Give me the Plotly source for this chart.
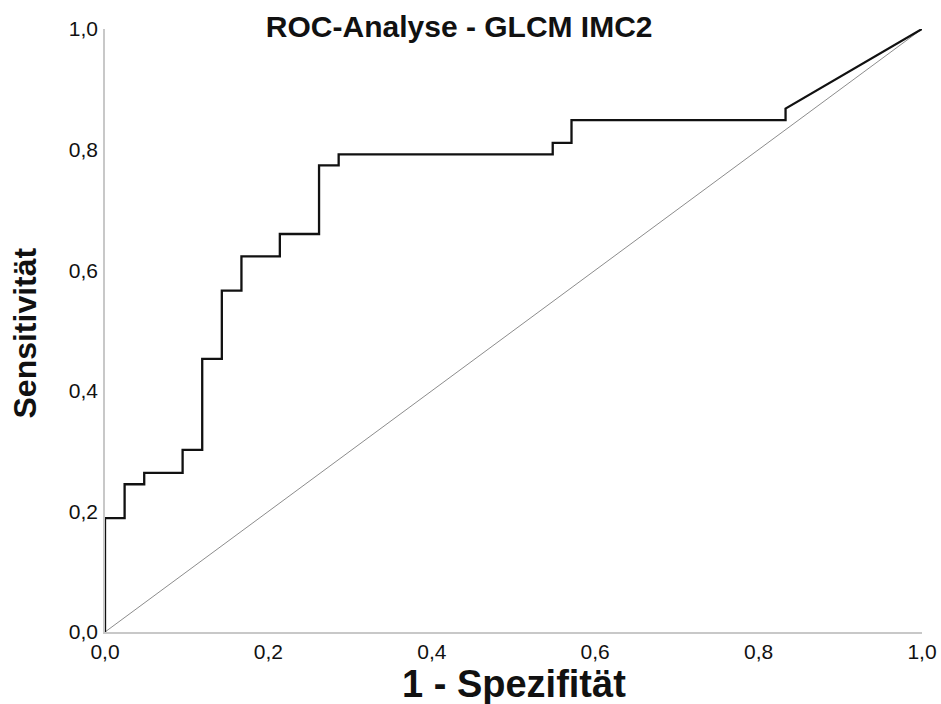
import plotly.graph_objects as go

# ROC curve vertices (1 - specificity, sensitivity)
fpr = [0.0, 0.0, 0.024, 0.024, 0.048, 0.048, 0.095, 0.095, 0.119, 0.119,
       0.143, 0.143, 0.167, 0.167, 0.214, 0.214, 0.262, 0.262, 0.286, 0.286,
       0.548, 0.548, 0.571, 0.571, 0.833, 0.833, 1.0]
tpr = [0.0, 0.189, 0.189, 0.245, 0.245, 0.264, 0.264, 0.302, 0.302, 0.453,
       0.453, 0.566, 0.566, 0.623, 0.623, 0.660, 0.660, 0.774, 0.774, 0.792,
       0.792, 0.811, 0.811, 0.849, 0.849, 0.868, 1.0]
ref_x = [0.0, 1.0]
ref_y = [0.0, 1.0]

tick_vals = [0.0, 0.2, 0.4, 0.6, 0.8, 1.0]
tick_text = ["0,0", "0,2", "0,4", "0,6", "0,8", "1,0"]

title_text = "ROC-Analyse - GLCM IMC2"
x_title = "1 - Spezifität"
y_title = "Sensitivität"

FONT = "Liberation Sans, Arial, sans-serif"

fig = go.Figure()
fig.add_trace(go.Scatter(x=ref_x, y=ref_y, mode="lines",
                         line=dict(color="#8c8c8c", width=1),
                         hoverinfo="skip", showlegend=False))
fig.add_trace(go.Scatter(x=fpr, y=tpr, mode="lines",
                         line=dict(color="#111111", width=2.3),
                         showlegend=False))

axis_common = dict(range=[0, 1], showgrid=False, zeroline=False,
                   showline=True, linecolor="#c8c8c8", linewidth=1.5,
                   ticks="", tickvals=tick_vals, ticktext=tick_text,
                   automargin=False,
                   tickfont=dict(family=FONT, size=21, color="#111111"))

fig.update_xaxes(**axis_common, ticklabelstandoff=0)
fig.update_yaxes(**axis_common, ticklabelstandoff=1)

fig.update_layout(
    width=941, height=704,
    margin=dict(l=105, r=19, t=29, b=72, autoexpand=False),
    plot_bgcolor="white", paper_bgcolor="white",
    title=dict(text="<b>" + title_text + "</b>", x=0.488, xanchor="center",
               xref="container", y=0.962, yanchor="middle", yref="container",
               font=dict(family=FONT, size=30, color="#111111")),
    annotations=[
        dict(text="<b>" + x_title + "</b>", xref="paper", yref="paper",
             x=0.5, y=0, yshift=-52, xanchor="center", yanchor="middle",
             showarrow=False,
             font=dict(family=FONT, size=38, color="#111111")),
        dict(text="<b>" + y_title + "</b>", xref="paper", yref="paper",
             x=0, xshift=-80, y=0.495, xanchor="center", yanchor="middle",
             textangle=-90, showarrow=False,
             font=dict(family=FONT, size=32, color="#111111")),
    ],
)

fig.write_html("out.html")
